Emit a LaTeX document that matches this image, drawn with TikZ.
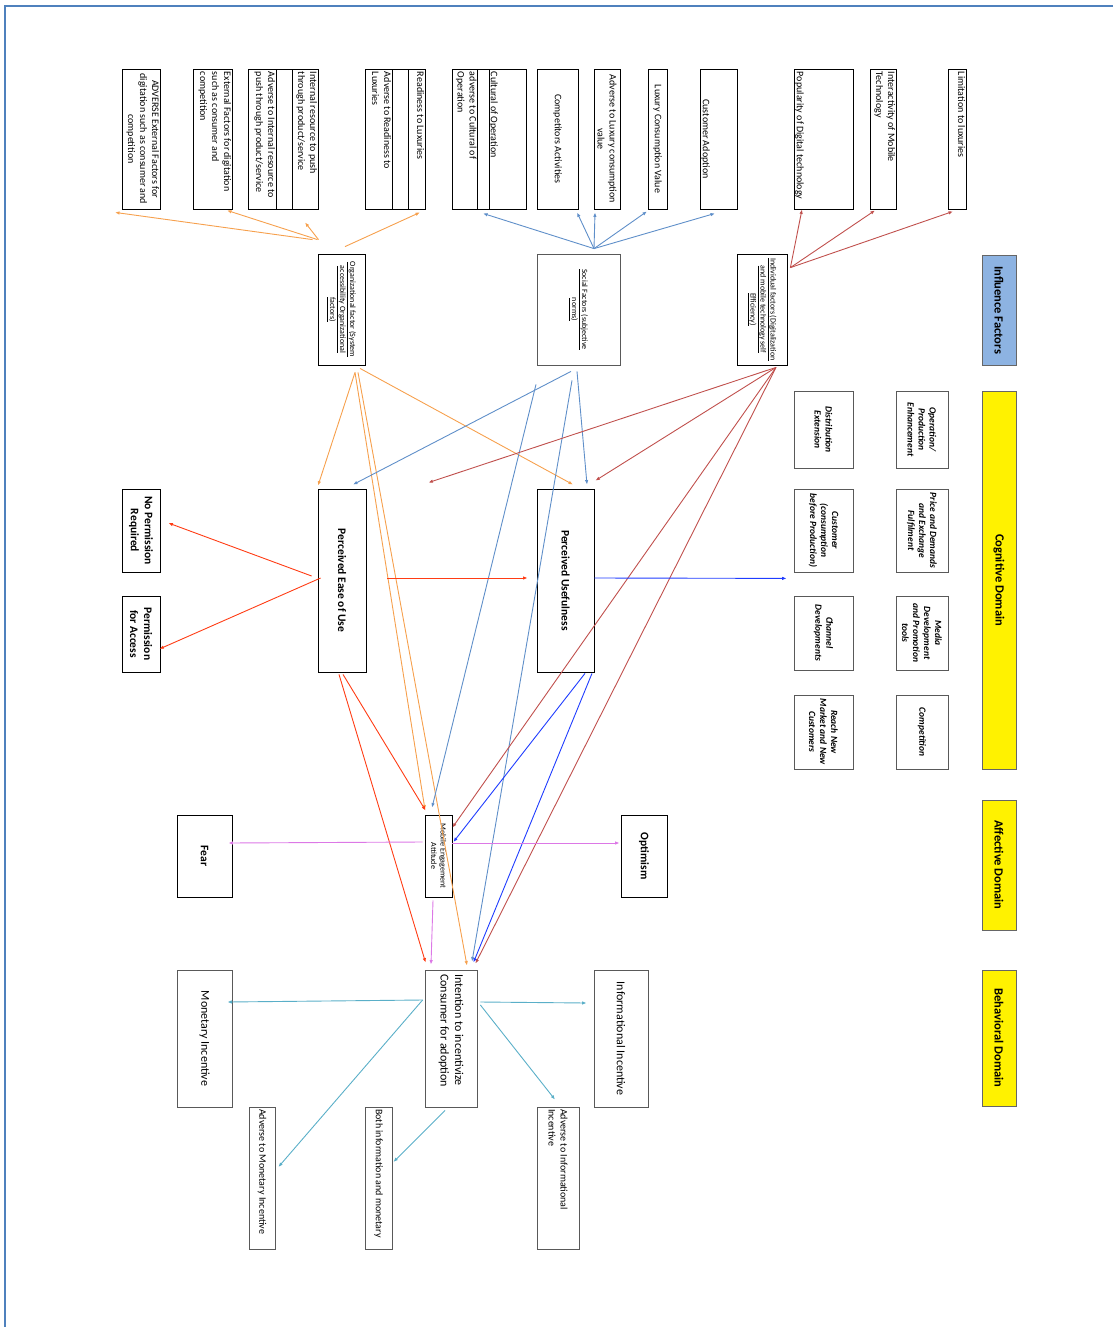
\documentclass[tikz,border=0pt]{standalone}
\usepackage{fontspec}
\setmainfont{Carlito}
\usepackage{graphicx}
\usetikzlibrary{arrows.meta,calc}

\definecolor{orgline}{HTML}{F6A04D}
\definecolor{socline}{HTML}{5F8FC9}
\definecolor{indline}{HTML}{C0504D}
\definecolor{easeline}{HTML}{FF3C14}
\definecolor{useline}{HTML}{1F3CFF}
\definecolor{attline}{HTML}{DC78E6}
\definecolor{intline}{HTML}{5AAFC8}
\definecolor{influfill}{HTML}{8DB3E2}
\definecolor{framecol}{HTML}{4F81BD}

% rotated text block: [inner pos]{length along}{depth across}{text}
\newcommand{\vt}[4][c]{\rotatebox{-90}{\parbox[c][#3][#1]{#2}{#4}}}

\begin{document}
\begin{tikzpicture}[x=1pt, y=-1pt,
    cell/.style={draw, inner sep=0pt, line width=0.8pt},
    graycell/.style={cell, draw=black!65},
    topbox/.style={cell, font=\fontsize{10}{12}\selectfont},
    factorbox/.style={cell, font=\fontsize{8}{10}\selectfont},
    cogbox/.style={graycell, font=\bfseries\itshape\fontsize{9.5}{11}\selectfont},
    mainbox/.style={cell, font=\bfseries\fontsize{11.5}{14}\selectfont},
    incbox/.style={graycell, font=\fontsize{12}{14.5}\selectfont},
    smallbox/.style={graycell, font=\fontsize{10}{12}\selectfont},
    domainbox/.style={draw=black!60, line width=0.8pt, fill=yellow, inner sep=0pt, font=\bfseries\fontsize{12.5}{15}\selectfont},
    arr/.style={-{Latex[length=4.5pt,width=3.5pt]}, line width=0.9pt},
    orgarr/.style={arr, orgline},
    socarr/.style={arr, socline},
    indarr/.style={arr, indline},
    easearr/.style={arr, easeline},
    usearr/.style={arr, useline},
    attarr/.style={arr, attline},
    intarr/.style={arr, intline}
  ]
  \useasboundingbox (0,0) rectangle (1113,1327);
  \draw[framecol, line width=1.5pt] (1113,6) -- (5,6) -- (5,1327);

  % top row of items
  \node[topbox, minimum width=38, minimum height=140] (advext) at (141,139) {\vt[t]{134pt}{36pt}{\centering ADVERSE External Factors for\\ digitation such as consumer and\\ competition}};
  \node[topbox, minimum width=39, minimum height=140] (extdig) at (212.5,139) {\vt[t]{134pt}{37pt}{\raggedright External Factors for digitation\\ such as consumer and\\ competition}};
  \node[topbox, minimum width=28, minimum height=140] (intadv) at (262,139) {\vt[t]{134pt}{26pt}{\raggedright Adverse to Internal resource to\\ push through product/service}};
  \node[cell, minimum width=16, minimum height=140] (intmid) at (284,139) {};
  \node[topbox, minimum width=26, minimum height=140] (intres) at (305,139) {\vt[t]{134pt}{24pt}{\raggedright Internal resource to push\\ through product/service}};
  \node[topbox, minimum width=27, minimum height=140] (readadv) at (378.5,139) {\vt[t]{134pt}{25pt}{\raggedright Adverse to Readiness to\\ Luxuries}};
  \node[cell, minimum width=16, minimum height=140] (readmid) at (400,139) {};
  \node[topbox, minimum width=17, minimum height=140] (readlux) at (416.5,139) {\vt[t]{134pt}{15pt}{\raggedright Readiness to Luxuries}};
  \node[topbox, minimum width=25, minimum height=140] (culadv) at (464.5,139) {\vt[t]{134pt}{24pt}{\raggedright adverse to Cultural of\\ Operation}};
  \node[cell, minimum width=12, minimum height=140] (culmid) at (483,139) {};
  \node[topbox, minimum width=37, minimum height=140] (culop) at (507.5,139) {\vt[b]{134pt}{35pt}{\raggedright Cultural of Operation}};
  \node[topbox, minimum width=41, minimum height=140] (compact) at (557.5,139) {\vt{134pt}{37pt}{\centering Competitors Activities}};
  \node[topbox, minimum width=26, minimum height=140] (luxadv) at (607,139) {\vt{134pt}{24pt}{\centering Adverse to Luxury consumption\\ value}};
  \node[topbox, minimum width=19, minimum height=140] (luxval) at (657.5,139) {\vt{134pt}{17pt}{\centering Luxury Consumption Value}};
  \node[topbox, minimum width=37, minimum height=140] (custadopt) at (718.5,139) {\vt[b]{134pt}{33pt}{\centering Customer Adoption}};
  \node[topbox, minimum width=59, minimum height=140] (popdig) at (823.5,139) {\vt[b]{134pt}{55pt}{\raggedright Popularity of Digital technology}};
  \node[topbox, minimum width=26, minimum height=140] (intermob) at (883,139) {\vt[t]{134pt}{24pt}{\raggedright Interactivity of Mobile\\ Technology}};
  \node[topbox, minimum width=18, minimum height=140] (limlux) at (957,139) {\vt[t]{134pt}{16pt}{\raggedright Limitation to luxuries}};

  % influence factors
  \node[factorbox, minimum width=47, minimum height=111] (org) at (341.5,309.5) {\vt{105pt}{43pt}{\centering \underline{Organizational factor (System}\\ \underline{accessibility Organizational}\\ \underline{factors)}}};
  \node[factorbox, draw=black!65, minimum width=83, minimum height=111] (social) at (578.5,309.5) {\vt{105pt}{79pt}{\centering \underline{Social Factors (subjective}\\ \underline{norms)}}};
  \node[factorbox, minimum width=50, minimum height=111] (indiv) at (762,309.5) {\vt{105pt}{46pt}{\centering \underline{Individual factors (Digitalization}\\ \underline{and mobile technology self}\\ \underline{Efficiency)}}};

  % domain labels
  \node[domainbox, fill=influfill, minimum width=34, minimum height=110] (influence) at (999,310) {\rotatebox{-90}{Influence Factors}};
  \node[domainbox, minimum width=34, minimum height=378] (cognitive) at (999,580) {\rotatebox{-90}{Cognitive Domain}};
  \node[domainbox, minimum width=34, minimum height=130] (affective) at (999,865) {\rotatebox{-90}{Affective Domain}};
  \node[domainbox, minimum width=34, minimum height=136] (behavioral) at (999,1038) {\rotatebox{-90}{Behavioral Domain}};

  % cognitive items
  \node[cogbox, minimum width=52, minimum height=77] (opprod) at (922,429.5) {\vt{73pt}{48pt}{\centering Operation/\\ Production\\ Enhancement}};
  \node[cogbox, minimum width=59, minimum height=77] (distext) at (823.5,429.5) {\vt{73pt}{55pt}{\centering Distribution\\ Extension}};
  \node[cogbox, minimum width=52, minimum height=83] (price) at (922,530.5) {\vt{79pt}{48pt}{\centering Price and Demands\\ and Exchange\\ Fulfilment}};
  \node[cogbox, minimum width=59, minimum height=83] (custcons) at (823.5,530.5) {\vt{79pt}{55pt}{\centering Customer\\ (consumption\\ before Production)}};
  \node[cogbox, minimum width=52, minimum height=74] (media) at (922,633) {\vt{70pt}{48pt}{\centering Media\\ Development\\ and Promotion\\ tools}};
  \node[cogbox, minimum width=59, minimum height=74] (channel) at (823.5,633) {\vt{70pt}{55pt}{\centering Channel\\ Developments}};
  \node[cogbox, minimum width=52, minimum height=74] (competition) at (922,732) {\vt{70pt}{48pt}{\centering Competition}};
  \node[cogbox, minimum width=59, minimum height=74] (reach) at (823.5,732) {\vt{70pt}{55pt}{\centering Reach New\\ Market and New\\ Customers}};

  % perception and attitude
  \node[mainbox, minimum width=38, minimum height=83] (nopermit) at (141,530.5) {\vt{79pt}{34pt}{\centering No Permission\\ Required}};
  \node[mainbox, minimum width=38, minimum height=76] (permit) at (141,634) {\vt{72pt}{34pt}{\centering Permission\\ for Access}};
  \node[mainbox, minimum width=48, minimum height=183] (ease) at (342,580.5) {\rotatebox{-90}{Perceived Ease of Use}};
  \node[mainbox, minimum width=57, minimum height=183] (useful) at (565.5,580.5) {\rotatebox{-90}{Perceived Usefulness}};
  \node[cell, font=\fontsize{8}{9.5}\selectfont, minimum width=27, minimum height=82] (attitude) at (438.5,856) {\vt{78pt}{23pt}{\centering Mobile Engagement\\ Attitude}};
  \node[mainbox, minimum width=55, minimum height=82] (fear) at (204.5,856) {\rotatebox{-90}{Fear}};
  \node[mainbox, minimum width=46, minimum height=82] (optimism) at (644,856) {\rotatebox{-90}{Optimism}};

  % incentives
  \node[incbox, minimum width=55, minimum height=137] (monetary) at (204.5,1038.5) {\rotatebox{-90}{Monetary Incentive}};
  \node[incbox, minimum width=52, minimum height=137] (intention) at (451,1038.5) {\vt{129pt}{48pt}{\raggedright Intention to incentivize\\ Consumer for adoption}};
  \node[incbox, minimum width=54, minimum height=137] (informational) at (621,1038.5) {\rotatebox{-90}{Informational Incentive}};
  \node[smallbox, minimum width=26, minimum height=142] (advmon) at (262,1178) {\vt{138pt}{22pt}{\raggedright Adverse to Monetary Incentive}};
  \node[smallbox, minimum width=27, minimum height=142] (bothinfo) at (378.5,1178) {\vt{138pt}{23pt}{\raggedright Both information and monetary}};
  \node[smallbox, minimum width=42, minimum height=142] (advinfo) at (558,1178) {\vt{138pt}{38pt}{\raggedright Adverse to Informational\\ Incentive}};

  % influence factors to their items
  \draw[orgarr] ($(org.north)+(-29,-14)$) -- ($(advext.south)+(-26,3)$);
  \draw[orgarr] ($(org.north)+(-24,-14)$) -- ($(extdig.south)+(14.5,1)$);
  \draw[orgarr] ($(org.north)+(-23,-14)$) -- ($(intres.south)+(0,13)$);
  \draw[orgarr] ($(org.north)+(3.5,-7)$) -- ($(readlux.south)+(3.5,3)$);
  \draw[socarr] ($(social.north)+(15.5,-5)$) -- ($(culmid.south)+(0,4)$);
  \draw[socarr] ($(social.north)+(15.5,-5)$) -- ($(compact.south)+(19.5,3)$);
  \draw[socarr] ($(social.north)+(15.5,-5)$) -- ($(luxadv.south)+(-12,3)$);
  \draw[socarr] ($(social.north)+(15.5,-5)$) -- ($(luxval.south)+(-10.5,2)$);
  \draw[socarr] ($(social.north)+(15.5,-5)$) -- ($(custadopt.south)+(-3.5,4)$);
  \draw[indarr] ($(indiv.north east)+(3,14)$) -- ($(popdig.south)+(-21.5,0)$);
  \draw[indarr] ($(indiv.north east)+(3,14)$) -- ($(intermob.south)+(-8,1)$);
  \draw[indarr] ($(indiv.north east)+(3,14)$) -- ($(limlux.south)+(-4,2)$);

  % influence factors down
  \draw[orgarr] ($(org.south)+(13.5,7)$) -- ($(ease.north)+(-24,-3)$);
  \draw[orgarr] ($(org.south)+(18.5,3)$) -- ($(useful.north)+(7.5,-4)$);
  \draw[orgarr] ($(org.south)+(13.5,7)$) -- ($(attitude.north)+(-13.5,-5)$);
  \draw[orgarr] ($(org.south)+(16.5,7)$) -- ($(intention.north)+(16,-4)$);
  \draw[socarr] ($(social.south)+(-7.5,6)$) -- ($(ease.north)+(11,-4)$);
  \draw[socarr] ($(social.south)+(-1.5,6)$) -- ($(useful.north)+(21.5,-4)$);
  \draw[socarr] ($(social.south)+(-42.5,19)$) -- ($(attitude.north)+(-6.5,-7)$);
  \draw[socarr] ($(social.south)+(-6.5,15)$) -- ($(intention.north)+(21,-8)$);
  \draw[indarr] ($(indiv.south)+(14,2)$) -- ($(ease.north east)+(62,-6)$);
  \draw[indarr] ($(indiv.south)+(14,2)$) -- ($(useful.north east)+(1,-8)$);
  \draw[indarr] ($(indiv.south)+(14,2)$) -- ($(attitude.north east)+(0,13)$);
  \draw[indarr] ($(indiv.south)+(14,2)$) -- ($(intention.north east)+(-2,-6)$);

  % perceived ease of use / usefulness
  \draw[easearr] ($(ease.west)+(-6,-4.5)$) -- ($(nopermit.east)+(8,-7.5)$);
  \draw[easearr] ($(ease.west)+(3,-2.5)$) -- ($(permit.east)+(-1,15)$);
  \draw[easearr] ($(ease.east)+(21,-2.5)$) -- ($(useful.west)+(-9,-2.5)$);
  \draw[easearr] ($(ease.south)+(1,2)$) -- ($(attitude.north west)+(1,-4)$);
  \draw[easearr] ($(ease.south)+(-3,2)$) -- ($(intention.north west)+(1,-7)$);
  \draw[usearr] ($(useful.east)+(0,-2.5)$) -- ($(custcons.south west)+(-7,6)$);
  \draw[usearr] ($(useful.south)+(19.5,1)$) -- ($(attitude.east)+(1,-14)$);
  \draw[usearr] ($(useful.south)+(26.5,1)$) -- ($(intention.north east)+(-4,-7)$);

  % attitude
  \draw[attarr] ($(attitude.west)+(-2,-14)$) -- ($(fear.east)+(-4,-13)$);
  \draw[attarr] ($(attitude.east)+(0,-13)$) -- ($(optimism.west)+(-1,-13)$);
  \draw[attarr] ($(attitude.south)+(-5.5,3)$) -- ($(intention.north)+(-20,-5)$);

  % intention to incentives
  \draw[intarr] ($(intention.west)+(-2,-38.5)$) -- ($(monetary.east)+(-5,-36.5)$);
  \draw[intarr] ($(intention.west)+(-2,-38.5)$) -- ($(advmon.east)+(3,-11)$);
  \draw[intarr] ($(intention.south)+(-6,3)$) -- ($(bothinfo.east)+(1,-16)$);
  \draw[intarr] ($(intention.east)+(3,-36.5)$) -- ($(informational.west)+(-7,-35.5)$);
  \draw[intarr] ($(intention.east)+(3,-33.5)$) -- ($(advinfo.north)+(-3,-7)$);
\end{tikzpicture}
\end{document}
